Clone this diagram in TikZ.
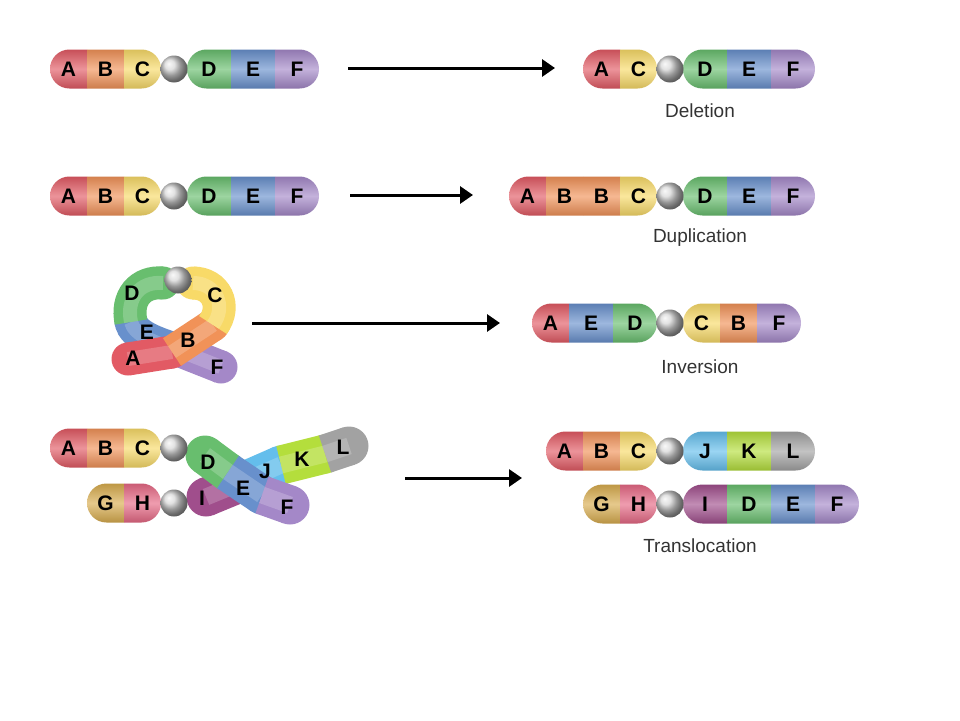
\documentclass[tikz,border=0pt]{standalone}
\usepackage{fontspec}
\setmainfont{Liberation Sans}
\usepackage{xcolor}
\usepackage{tikz}
\usetikzlibrary{arrows.meta,shapes}

\definecolor{cA}{RGB}{226,90,100}
\definecolor{cB}{RGB}{241,146,88}
\definecolor{cC}{RGB}{248,218,104}
\definecolor{cD}{RGB}{104,190,110}
\definecolor{cE}{RGB}{104,144,204}
\definecolor{cF}{RGB}{164,136,200}
\definecolor{cG}{RGB}{216,172,78}
\definecolor{cH}{RGB}{230,104,132}
\definecolor{cI}{RGB}{160,78,140}
\definecolor{cJ}{RGB}{100,190,236}
\definecolor{cK}{RGB}{180,222,60}
\definecolor{cL}{RGB}{162,162,162}
\definecolor{cen}{RGB}{215,215,215}

\newcommand{\genefont}{\fontsize{21}{24}\selectfont\bfseries}
\newcommand{\capfont}{\fontsize{19}{22}\selectfont}

\tikzset{
  gene/.style={rectangle, inner sep=0pt, minimum height=39pt, font=\genefont,
    top color=#1!88!black, bottom color=#1!85!black, middle color=#1!65!white},
  narrow/.style={minimum width=37pt},
  wide/.style={minimum width=44pt},
  letter/.style={inner sep=0pt, font=\genefont},
  cent/.style={circle, inner sep=0pt, minimum size=27pt, ball color=cen},
  band/.style={line width=39pt, draw=#1,
    postaction={draw=white, opacity=.2, line width=17pt}},
  loopband/.style={line width=33pt, draw=#1,
    postaction={draw=white, opacity=.2, line width=14pt}},
  caption/.style={font=\capfont, text=black!80, anchor=base},
  arr/.style={line width=3pt, -{Triangle[length=13pt,width=17pt]}}
}

\begin{document}
\begin{tikzpicture}[x=1pt,y=-1pt]
\useasboundingbox (0,0) rectangle (960,720);

% deletion
\begin{scope}
  \clip[rounded corners=19.4pt] (50,49.5) rectangle (161,88.5);
  \node[gene=cA,narrow] (delbA) at (68.5,69) {A};
  \node[gene=cB,narrow] (delbB) at (105.5,69) {B};
  \node[gene=cC,narrow] (delbC) at (142.5,69) {C};
\end{scope}
\begin{scope}
  \clip[rounded corners=19.4pt] (187,49.5) rectangle (319,88.5);
  \node[gene=cD,wide] (delbD) at (209,69) {D};
  \node[gene=cE,wide] (delbE) at (253,69) {E};
  \node[gene=cF,wide] (delbF) at (297,69) {F};
\end{scope}
\node[cent] (delbc) at (174,69) {};
\begin{scope}
  \clip[rounded corners=19.4pt] (583,49.5) rectangle (657,88.5);
  \node[gene=cA,narrow] (delaA) at (601.5,69) {A};
  \node[gene=cC,narrow] (delaC) at (638.5,69) {C};
\end{scope}
\begin{scope}
  \clip[rounded corners=19.4pt] (683,49.5) rectangle (815,88.5);
  \node[gene=cD,wide] (delaD) at (705,69) {D};
  \node[gene=cE,wide] (delaE) at (749,69) {E};
  \node[gene=cF,wide] (delaF) at (793,69) {F};
\end{scope}
\node[cent] (delac) at (670,69) {};
\node[caption] (dellbl) at (700,117.5) {Deletion};
\coordinate (delfrom) at (348,68);
\coordinate (delto) at (555,68);
\draw[arr] (delfrom) -- (delto);

% duplication
\begin{scope}
  \clip[rounded corners=19.4pt] (50,176.5) rectangle (161,215.5);
  \node[gene=cA,narrow] (dupbA) at (68.5,196) {A};
  \node[gene=cB,narrow] (dupbB) at (105.5,196) {B};
  \node[gene=cC,narrow] (dupbC) at (142.5,196) {C};
\end{scope}
\begin{scope}
  \clip[rounded corners=19.4pt] (187,176.5) rectangle (319,215.5);
  \node[gene=cD,wide] (dupbD) at (209,196) {D};
  \node[gene=cE,wide] (dupbE) at (253,196) {E};
  \node[gene=cF,wide] (dupbF) at (297,196) {F};
\end{scope}
\node[cent] (dupbc) at (174,196) {};
\begin{scope}
  \clip[rounded corners=19.4pt] (509,176.5) rectangle (657,215.5);
  \node[gene=cA,narrow] (dupaA) at (527.5,196) {A};
  \node[gene=cB,narrow] (dupaB) at (564.5,196) {B};
  \node[gene=cB,narrow] (dupaBB) at (601.5,196) {B};
  \node[gene=cC,narrow] (dupaC) at (638.5,196) {C};
\end{scope}
\begin{scope}
  \clip[rounded corners=19.4pt] (683,176.5) rectangle (815,215.5);
  \node[gene=cD,wide] (dupaD) at (705,196) {D};
  \node[gene=cE,wide] (dupaE) at (749,196) {E};
  \node[gene=cF,wide] (dupaF) at (793,196) {F};
\end{scope}
\node[cent] (dupac) at (670,196) {};
\node[caption] (duplbl) at (700,242) {Duplication};
\coordinate (dupfrom) at (350,195);
\coordinate (dupto) at (473,195);
\draw[arr] (dupfrom) -- (dupto);

% inversion: the loop, lower strand first
\fill[cE] (131,322) circle (16.5pt);
\fill[cF] (221,367) circle (16.5pt);
\draw[loopband=cE] (131,322) .. controls (134,335) and (155,343) .. (178,350);
\draw[loopband=cF] (178,350) -- (221,367);
\fill[cD] (163,283) circle (16.5pt);
\draw[loopband=cD] (163,283) .. controls (140,281) and (126,298) .. (131,322);
\fill[cA] (128,359) circle (16.5pt);
\fill[cA] (172,352) circle (16.5pt);
\fill[cB] (213,325) circle (16.5pt);
\fill[cC] (193,283) circle (16.5pt);
\draw[loopband=cA] (128,359) -- (172,352);
\draw[loopband=cB] (172,352) -- (213,325);
\draw[loopband=cC] (213,325) .. controls (227,306) and (216,283) .. (193,283);
\node[cent] (invbc) at (178,280) {};
\node[letter] (invbD) at (132,293) {D};
\node[letter] (invbC) at (215,295) {C};
\node[letter] (invbE) at (147,332) {E};
\node[letter] (invbB) at (188,340) {B};
\node[letter] (invbA) at (133,358) {A};
\node[letter] (invbF) at (217,367) {F};
\begin{scope}
  \clip[rounded corners=19.4pt] (532,303.5) rectangle (657,342.5);
  \node[gene=cA,narrow] (invaA) at (550.5,323) {A};
  \node[gene=cE,wide] (invaE) at (591,323) {E};
  \node[gene=cD,wide] (invaD) at (635,323) {D};
\end{scope}
\begin{scope}
  \clip[rounded corners=19.4pt] (683,303.5) rectangle (801,342.5);
  \node[gene=cC,narrow] (invaC) at (701.5,323) {C};
  \node[gene=cB,narrow] (invaB) at (738.5,323) {B};
  \node[gene=cF,wide] (invaF) at (779,323) {F};
\end{scope}
\node[cent] (invac) at (670,323) {};
\node[caption] (invlbl) at (700,373) {Inversion};
\coordinate (invfrom) at (252,323);
\coordinate (invto) at (500,323);
\draw[arr] (invfrom) -- (invto);

% translocation: the crossing arms, I-J-K-L under D-E-F
\fill[cI] (206,497) circle (19.5pt);
\fill[cI] (240,483) circle (19.5pt);
\fill[cJ] (281,465) circle (19.5pt);
\fill[cK] (325,454) circle (19.5pt);
\fill[cL] (349,446) circle (19.5pt);
\draw[band=cI] (206,497) -- (240,483);
\draw[band=cJ] (240,483) -- (281,465);
\draw[band=cK] (281,465) -- (325,454);
\draw[band=cL] (325,454) -- (349,446);
\fill[cD] (205,455) circle (19.5pt);
\fill[cD] (228,472) circle (19.5pt);
\fill[cE] (262,495) circle (19.5pt);
\fill[cF] (290,505) circle (19.5pt);
\draw[band=cD] (205,455) -- (228,472);
\draw[band=cE] (228,472) -- (262,495);
\draw[band=cF] (262,495) -- (290,505);
\node[letter] (trabI) at (202,498) {I};
\node[letter] (trabJ) at (265,471) {J};
\node[letter] (trabK) at (302,459) {K};
\node[letter] (trabL) at (343,447) {L};
\node[letter] (trabD) at (208,462) {D};
\node[letter] (trabE) at (243,488) {E};
\node[letter] (trabF) at (287,507) {F};
\begin{scope}
  \clip[rounded corners=19.4pt] (50,428.5) rectangle (161,467.5);
  \node[gene=cA,narrow] (trabA) at (68.5,448) {A};
  \node[gene=cB,narrow] (trabB) at (105.5,448) {B};
  \node[gene=cC,narrow] (trabC) at (142.5,448) {C};
\end{scope}
\begin{scope}
  \clip[rounded corners=19.4pt] (87,483.5) rectangle (161,522.5);
  \node[gene=cG,narrow] (trabG) at (105.5,503) {G};
  \node[gene=cH,narrow] (trabH) at (142.5,503) {H};
\end{scope}
\node[cent] (trabc) at (174,448) {};
\node[cent] (trabcc) at (174,503) {};
\begin{scope}
  \clip[rounded corners=19.4pt] (546,431.5) rectangle (657,470.5);
  \node[gene=cA,narrow] (traaA) at (564.5,451) {A};
  \node[gene=cB,narrow] (traaB) at (601.5,451) {B};
  \node[gene=cC,narrow] (traaC) at (638.5,451) {C};
\end{scope}
\begin{scope}
  \clip[rounded corners=19.4pt] (683,431.5) rectangle (815,470.5);
  \node[gene=cJ,wide] (traaJ) at (705,451) {J};
  \node[gene=cK,wide] (traaK) at (749,451) {K};
  \node[gene=cL,wide] (traaL) at (793,451) {L};
\end{scope}
\node[cent] (traac) at (670,451) {};
\begin{scope}
  \clip[rounded corners=19.4pt] (583,484.5) rectangle (657,523.5);
  \node[gene=cG,narrow] (traaG) at (601.5,504) {G};
  \node[gene=cH,narrow] (traaH) at (638.5,504) {H};
\end{scope}
\begin{scope}
  \clip[rounded corners=19.4pt] (683,484.5) rectangle (859,523.5);
  \node[gene=cI,wide] (traaI) at (705,504) {I};
  \node[gene=cD,wide] (traaD) at (749,504) {D};
  \node[gene=cE,wide] (traaE) at (793,504) {E};
  \node[gene=cF,wide] (traaF) at (837,504) {F};
\end{scope}
\node[cent] (traacc) at (670,504) {};
\node[caption] (tralbl) at (700,552) {Translocation};
\coordinate (trafrom) at (405,478);
\coordinate (trato) at (522,478);
\draw[arr] (trafrom) -- (trato);
\end{tikzpicture}
\end{document}
